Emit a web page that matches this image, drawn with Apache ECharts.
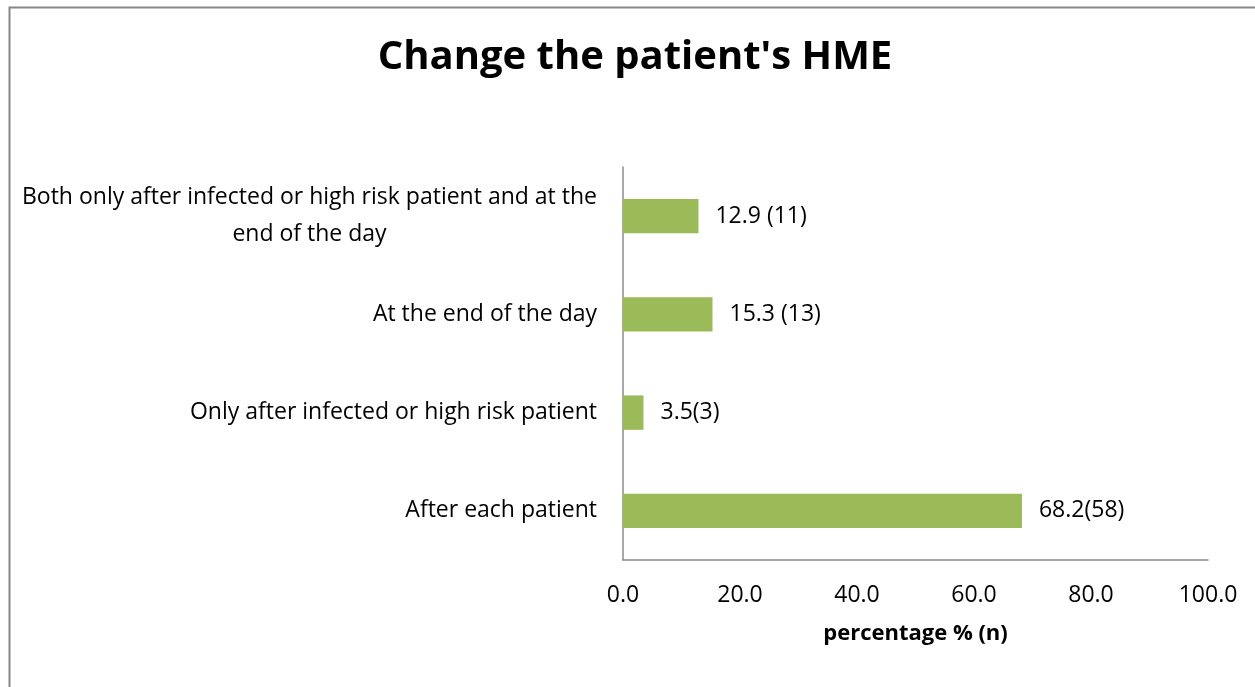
<!DOCTYPE html>
<html>
<head>
<meta charset="utf-8">
<script src="https://cdn.jsdelivr.net/npm/echarts@6/dist/echarts.min.js"></script>
<style>
  html, body { margin: 0; padding: 0; background: #fff; }
  #chart { width: 1255px; height: 687px; }
</style>
</head>
<body>
<div id="chart"></div>
<script>
// categories, bottom to top
var categories = [
  'After each patient',
  'Only after infected or high risk patient',
  'At the end of the day',
  'Both only after infected or high risk patient and at the\nend of the day'
];
var percentValues = [68.2, 3.5, 15.3, 12.9];
var barLabels = ['68.2(58)', '3.5(3)', '15.3 (13)', '12.9 (11)'];
var xTicks = [0, 20, 40, 60, 80, 100];

var FONT = '"Open Sans", "Noto Sans", sans-serif';

var myChart = echarts.init(document.getElementById('chart'));
var option = {
  backgroundColor: '#fff',
  title: {
    text: "Change the patient's HME",
    left: 630,
    top: 33,
    textAlign: 'center',
    textStyle: { fontFamily: FONT, fontSize: 40, fontWeight: 'bold', color: '#000' }
  },
  graphic: [{
    type: 'rect',
    left: 7, top: 5,
    shape: { width: 1262, height: 700 },
    style: { fill: 'none', stroke: '#868686', lineWidth: 2 },
    silent: true
  }],
  grid: { left: 623, right: 47, top: 167, bottom: 127 },
  xAxis: {
    type: 'value',
    min: xTicks[0],
    max: xTicks[xTicks.length - 1],
    interval: 20,
    name: 'percentage % (n)',
    nameLocation: 'middle',
    nameGap: 63,
    nameTextStyle: { fontFamily: FONT, fontSize: 22, fontWeight: 'bold', color: '#000' },
    splitLine: { show: false },
    axisTick: { show: false },
    axisLine: { show: true, lineStyle: { color: '#8c8c8c', width: 1.5 } },
    axisLabel: {
      margin: 24,
      fontFamily: FONT, fontSize: 23, color: '#000',
      formatter: function (v) { return v.toFixed(1); }
    }
  },
  yAxis: {
    type: 'category',
    data: categories,
    axisTick: { show: false },
    axisLine: { show: true, lineStyle: { color: '#8c8c8c', width: 1.5 } },
    axisLabel: {
      margin: 26,
      align: 'right',
      formatter: function (v) {
        return v.split('\n').map(function (s) { return '{c|' + s + '}'; }).join('\n');
      },
      rich: {
        c: { fontFamily: FONT, fontSize: 23, color: '#000', align: 'center', lineHeight: 37 }
      }
    }
  },
  series: [{
    type: 'bar',
    data: percentValues,
    barCategoryGap: '65%',
    itemStyle: { color: '#9bbb59' },
    label: {
      show: true,
      position: 'right',
      distance: 17,
      fontFamily: FONT, fontSize: 23, color: '#000',
      formatter: function (p) { return barLabels[p.dataIndex]; }
    }
  }]
};
myChart.setOption(option);
</script>
</body>
</html>
